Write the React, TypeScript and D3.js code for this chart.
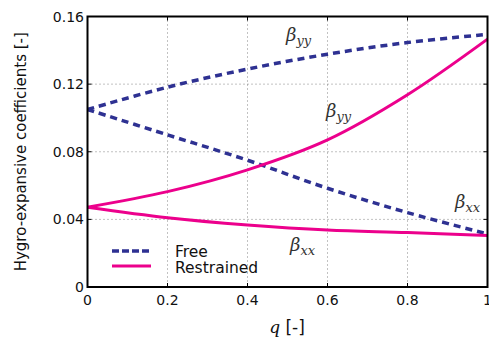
import React from "react";
import * as d3 from "d3";

const qValues = [0, 0.2, 0.4, 0.6, 0.8, 1.0];
const freeYY = [0.105, 0.1182, 0.1289, 0.1377, 0.1446, 0.1494];
const freeXX = [0.105, 0.090, 0.075, 0.0584, 0.044, 0.0314];
const restrYY = [0.0472, 0.0564, 0.0693, 0.087, 0.1137, 0.1466];
const restrXX = [0.0472, 0.041, 0.0367, 0.0337, 0.0322, 0.0304];
const xTicks = [0, 0.2, 0.4, 0.6, 0.8, 1];
const yTicks = [0, 0.04, 0.08, 0.12, 0.16];
const xTickLabels = ["0", "0.2", "0.4", "0.6", "0.8", "1"];
const yTickLabels = ["0", "0.04", "0.08", "0.12", "0.16"];

const W = 489, H = 344;
const M = { left: 87.5, right: 487.5, top: 16.5, bottom: 287 };
const BLUE = "#2E3192";
const PINK = "#EC008C";
const FONT = "DejaVu Sans, sans-serif";

export default function App() {
  const x = d3.scaleLinear().domain([0, 1]).range([M.left, M.right]);
  const y = d3.scaleLinear().domain([0, 0.16]).range([M.bottom, M.top]);
  const line = (vals: number[]) =>
    d3.line<number>().x((_, i) => x(qValues[i])).y((v) => y(v)).curve(d3.curveCatmullRom)(vals) || "";

  return (
    <svg width={W} height={H} style={{ position: "absolute", left: 0, top: 0 }}>
      <rect width={W} height={H} fill="white" />
      {xTicks.slice(1, -1).map((t) => (
        <line key={"gx" + t} x1={x(t)} x2={x(t)} y1={M.top} y2={M.bottom} stroke="#666" strokeWidth={0.8} strokeDasharray="1,3" />
      ))}
      {yTicks.slice(1, -1).map((t) => (
        <line key={"gy" + t} x1={M.left} x2={M.right} y1={y(t)} y2={y(t)} stroke="#666" strokeWidth={0.8} strokeDasharray="1,3" />
      ))}
      {xTicks.map((t) => (
        <g key={"tx" + t}>
          <line x1={x(t)} x2={x(t)} y1={M.bottom} y2={M.bottom - 4} stroke="black" />
          <line x1={x(t)} x2={x(t)} y1={M.top} y2={M.top + 4} stroke="black" />
        </g>
      ))}
      {yTicks.map((t) => (
        <g key={"ty" + t}>
          <line x1={M.left} x2={M.left + 4} y1={y(t)} y2={y(t)} stroke="black" />
          <line x1={M.right} x2={M.right - 4} y1={y(t)} y2={y(t)} stroke="black" />
        </g>
      ))}
      <path d={line(freeYY)} fill="none" stroke={BLUE} strokeWidth={3.5} strokeDasharray="7,5" />
      <path d={line(freeXX)} fill="none" stroke={BLUE} strokeWidth={3.5} strokeDasharray="7,5" />
      <path d={line(restrYY)} fill="none" stroke={PINK} strokeWidth={3} />
      <path d={line(restrXX)} fill="none" stroke={PINK} strokeWidth={3} />
      <rect x={M.left} y={M.top} width={M.right - M.left} height={M.bottom - M.top} fill="none" stroke="black" strokeWidth={2} />
      {xTicks.map((t, i) => (
        <text key={"lx" + t} x={x(t)} y={305} textAnchor="middle" fontFamily={FONT} fontSize={14} fill="#111">{xTickLabels[i]}</text>
      ))}
      {yTicks.map((t, i) => (
        <text key={"ly" + t} x={84} y={y(t) + 5} textAnchor="end" fontFamily={FONT} fontSize={14} fill="#111">{yTickLabels[i]}</text>
      ))}
      <text x={287} y={333} textAnchor="middle" fontFamily={FONT} fontSize={17} fill="#111">
        <tspan fontFamily="DejaVu Serif, serif" fontStyle="italic">q</tspan> [-]
      </text>
      <text transform={`translate(26,${(M.top + M.bottom) / 2}) rotate(-90)`} textAnchor="middle" fontFamily={FONT} fontSize={15} fill="#111">
        Hygro-expansive coefficients [-]
      </text>
      {[
        { tx: 286, ty: 41, sub: "yy" },
        { tx: 326, ty: 117, sub: "yy" },
        { tx: 455, ty: 208, sub: "xx" },
        { tx: 290, ty: 251, sub: "xx" },
      ].map((l, i) => (
        <text key={"b" + i} x={l.tx} y={l.ty} fontFamily="DejaVu Serif, serif" fontStyle="italic" fontSize={18} fill="#333">
          β<tspan fontSize={13} dy={4}>{l.sub}</tspan>
        </text>
      ))}
      <line x1={112} x2={151} y1={251} y2={251} stroke={BLUE} strokeWidth={3.5} strokeDasharray="7,3" />
      <line x1={112} x2={151} y1={266} y2={266} stroke={PINK} strokeWidth={3} />
      <text x={175} y={257} fontFamily={FONT} fontSize={15.5} fill="#111">Free</text>
      <text x={175} y={273} fontFamily={FONT} fontSize={15.5} fill="#111">Restrained</text>
    </svg>
  );
}
